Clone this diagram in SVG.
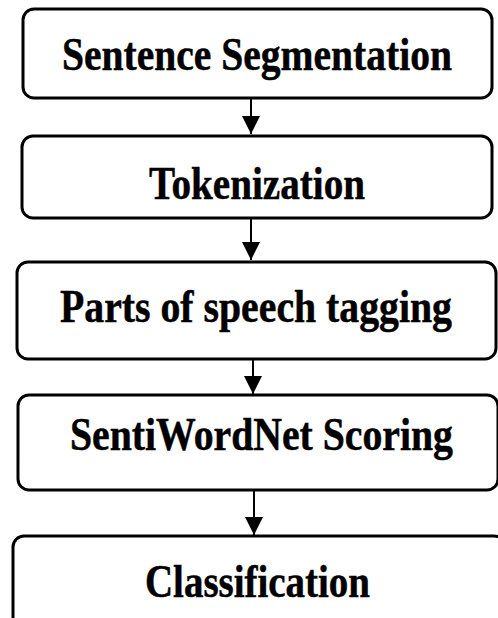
<svg xmlns="http://www.w3.org/2000/svg" width="498" height="618" viewBox="0 0 498 618">
<style>
.box{fill:#fff;stroke:#000;stroke-width:3}
.lbl{font-family:"Liberation Serif","Times New Roman",serif;font-weight:bold;font-size:38px;fill:#000;stroke:#000;stroke-width:0.4;text-anchor:start}
.conn{stroke:#000;stroke-width:2;fill:none}
</style>
<defs>
<marker id="ah" markerUnits="userSpaceOnUse" markerWidth="20" markerHeight="20" refX="18" refY="9" orient="auto">
<path d="M0,0 L18,9 L0,18 Z" fill="#000"/>
</marker>
</defs>
<rect width="498" height="618" fill="#fff"/>
<g id="n1"><rect class="box" x="23" y="9" width="469" height="89" rx="11"/>
<text class="lbl" transform="translate(62,70) scale(1,1.24)" textLength="390" lengthAdjust="spacingAndGlyphs">Sentence Segmentation</text></g>
<g id="n2"><rect class="box" x="22" y="136" width="470" height="82" rx="11"/>
<text class="lbl" transform="translate(149,199) scale(1,1.24)" textLength="216" lengthAdjust="spacingAndGlyphs">Tokenization</text></g>
<g id="n3"><rect class="box" x="17" y="262" width="479" height="97" rx="11"/>
<text class="lbl" transform="translate(60,322) scale(1,1.24)" textLength="392" lengthAdjust="spacingAndGlyphs">Parts of speech tagging</text></g>
<g id="n4"><rect class="box" x="18" y="395" width="480" height="95" rx="11"/>
<text class="lbl" transform="translate(70,450) scale(1,1.24)" textLength="383" lengthAdjust="spacingAndGlyphs">SentiWordNet Scoring</text></g>
<g id="n5"><rect class="box" x="13" y="536" width="492" height="95" rx="11"/>
<text class="lbl" transform="translate(145,597) scale(1,1.24)" textLength="225" lengthAdjust="spacingAndGlyphs">Classification</text></g>
<g id="connectors">
<line class="conn" x1="251" y1="98" x2="251" y2="134" marker-end="url(#ah)"/>
<line class="conn" x1="251" y1="218" x2="251" y2="260" marker-end="url(#ah)"/>
<line class="conn" x1="253" y1="359" x2="253" y2="394" marker-end="url(#ah)"/>
<line class="conn" x1="254" y1="490" x2="254" y2="535" marker-end="url(#ah)"/>
</g>
</svg>
